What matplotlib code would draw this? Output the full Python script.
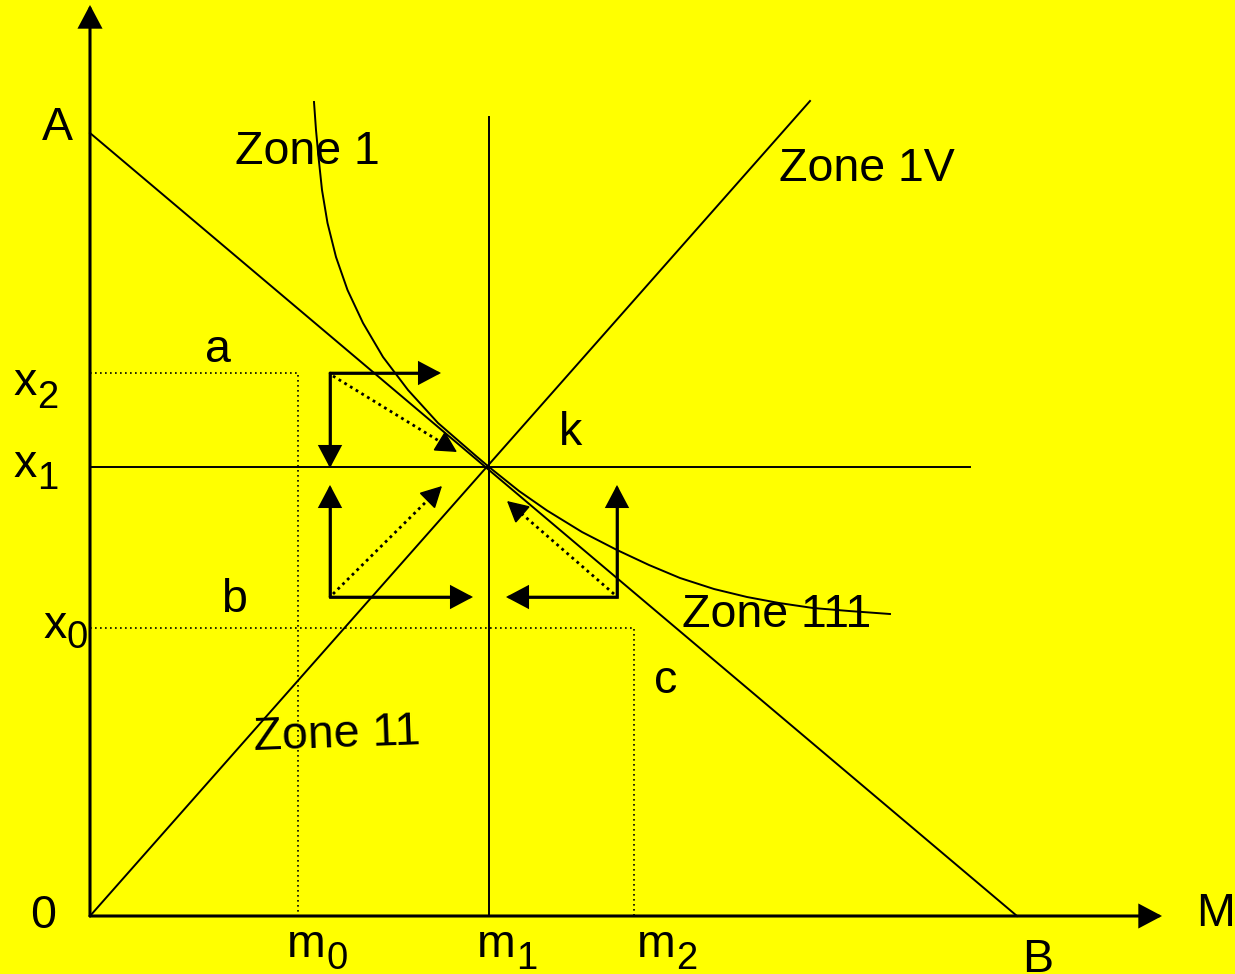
import matplotlib
matplotlib.use("Agg")
import matplotlib.pyplot as plt
from matplotlib.patches import FancyArrowPatch
import numpy as np

plt.rcParams['font.family'] = ['Liberation Sans', 'DejaVu Sans']

# ---------------------------------------------------------------------------
# diagram values (origin 0 at bottom left of the axes)
# ---------------------------------------------------------------------------
pt_A = (0, 783)          # budget line intercept on vertical axis
pt_B = (927, 0)          # budget line intercept on horizontal axis
ray_end = (720, 815)     # ray from origin
k = (399, 449)           # equilibrium point
m_vals = [208, 399, 544]     # m0, m1, m2
x_vals = [288, 449, 543]     # x0, x1, x2
m1_top = 799
x1_right = 880
y_axis_top = 911
x_axis_right = 1072

# indifference curve
curve_x = [224, 226, 228.5, 232, 237.5, 246, 257.5, 273, 293, 318, 348, 386, 399,
           429, 457, 492, 527, 559, 590, 624, 657, 689, 723, 759, 800]
curve_y = [814, 786, 759, 726, 693, 659, 626, 593, 559, 526, 493, 460, 449,
           425, 405.5, 384, 366, 351, 338, 327, 319, 313, 308, 305, 302]

# adjustment arrows: corner, horizontal tip, vertical tip, dotted start, dotted tip
box_corners = [(240, 543), (240, 319), (527, 319)]
box_h_tips = [(351, 543), (383, 319), (416, 319)]
box_v_tips = [(240, 448), (240, 431), (527, 431)]
dot_starts = [(243, 540), (243, 322), (524, 322)]
dot_tips = [(367, 464), (352, 430), (417, 415)]

zone_labels = ["Zone 1", "Zone 1V", "Zone 11", "Zone 111"]
zone_pos = [(145, 752), (689, 735), (164, 166), (592, 289)]
zone_rot = [0, 0, 2, 0]

small_labels = ["a", "k", "b", "c"]
small_pos = [(128, 554), (480, 471), (144, 304), (576, 223)]

YELLOW = "#ffff00"
FS = 33.5
FS_SUB = 27.5
HEAD = 16
HEAD_PX = 0.85 * HEAD * 100 / 72      # head length in data units (1 unit = 1 px)

fig = plt.figure(figsize=(12.35, 9.74), dpi=100, facecolor=YELLOW)
ax = fig.add_axes([0, 0, 1, 1])
ax.set_facecolor(YELLOW)
ax.set_xlim(-90, 1145)
ax.set_ylim(-58, 916)
ax.axis("off")


def arrow(p0, p1, lw=1.9, scale=HEAD):
    a = FancyArrowPatch(p0, p1, arrowstyle="-|>,head_length=0.85,head_width=0.45",
                        mutation_scale=scale, lw=lw, color="black",
                        shrinkA=0, shrinkB=0, joinstyle="miter")
    ax.add_patch(a)


def head_base(p0, p1):
    p0 = np.array(p0, float)
    p1 = np.array(p1, float)
    d = (p1 - p0) / np.hypot(*(p1 - p0))
    return p1 - d * HEAD_PX, d


def dotted_arrow(p0, p1):
    back, d = head_base(p0, p1)
    ax.plot([p0[0], back[0]], [p0[1], back[1]], color="black", lw=2.0,
            ls=(0, (1, 1.4)))
    arrow(tuple(back - d * 0.5), tuple(p1), lw=1.0)


# axes with arrows
arrow((0, 0), (0, y_axis_top), lw=2.2)
arrow((0, 0), (x_axis_right, 0), lw=2.2)

# straight lines
ax.plot([pt_A[0], pt_B[0]], [pt_A[1], pt_B[1]], color="black", lw=1.4)
ax.plot([0, ray_end[0]], [0, ray_end[1]], color="black", lw=1.4)
ax.plot([k[0], k[0]], [0, m1_top], color="black", lw=1.4)
ax.plot([0, x1_right], [k[1], k[1]], color="black", lw=1.4)

# indifference curve
ax.plot(curve_x, curve_y, color="black", lw=1.4, solid_joinstyle="round")

# dotted guide lines
dot = (0, (1, 2))
ax.plot([0, m_vals[0], m_vals[0]], [x_vals[2], x_vals[2], 0], color="black", lw=1.2, ls=dot)
ax.plot([0, m_vals[2], m_vals[2]], [x_vals[0], x_vals[0], 0], color="black", lw=1.2, ls=dot)

# adjustment arrows
for c, h, v, s, t in zip(box_corners, box_h_tips, box_v_tips, dot_starts, dot_tips):
    hb, _ = head_base(c, h)
    vb, _ = head_base(c, v)
    ax.plot([hb[0], c[0], vb[0]], [hb[1], c[1], vb[1]], color="black", lw=1.9,
            solid_joinstyle="miter", solid_capstyle="butt")
    arrow(c, h)
    arrow(c, v)
    dotted_arrow(s, t)

# labels
for txt, (x, y), r in zip(zone_labels, zone_pos, zone_rot):
    ax.text(x, y, txt, fontsize=FS, ha="left", va="baseline",
            rotation=r, rotation_mode="anchor")
for txt, (x, y) in zip(small_labels, small_pos):
    ax.text(x, y, txt, fontsize=FS, ha="center", va="baseline")

ax.text(-48, 776, "A", fontsize=FS, ha="left", va="baseline")
ax.text(-60, -12, "0", fontsize=FS, ha="left", va="baseline")
ax.text(1106, -10, "M", fontsize=FS, ha="left", va="baseline")
ax.text(932, -56, "B", fontsize=FS, ha="left", va="baseline")

# m labels with subscripts
m_left = [197, 387, 547]
for i, xl in enumerate(m_left):
    ax.text(xl, -41, "m", fontsize=FS, ha="left", va="baseline")
    ax.text(xl + 39, -53, str(i), fontsize=FS_SUB, ha="left", va="baseline")

# x labels with subscripts
x_lab_pos = [(-47, 278, 268), (-77, 439, 427), (-77, 521, 508)]
for i, (xl, yb, ys) in enumerate(x_lab_pos):
    ax.text(xl, yb, "x", fontsize=FS, ha="left", va="baseline")
    ax.text(xl + 24, ys, str(i), fontsize=FS_SUB, ha="left", va="baseline")

fig.savefig("out.png", dpi=100, facecolor=YELLOW)
